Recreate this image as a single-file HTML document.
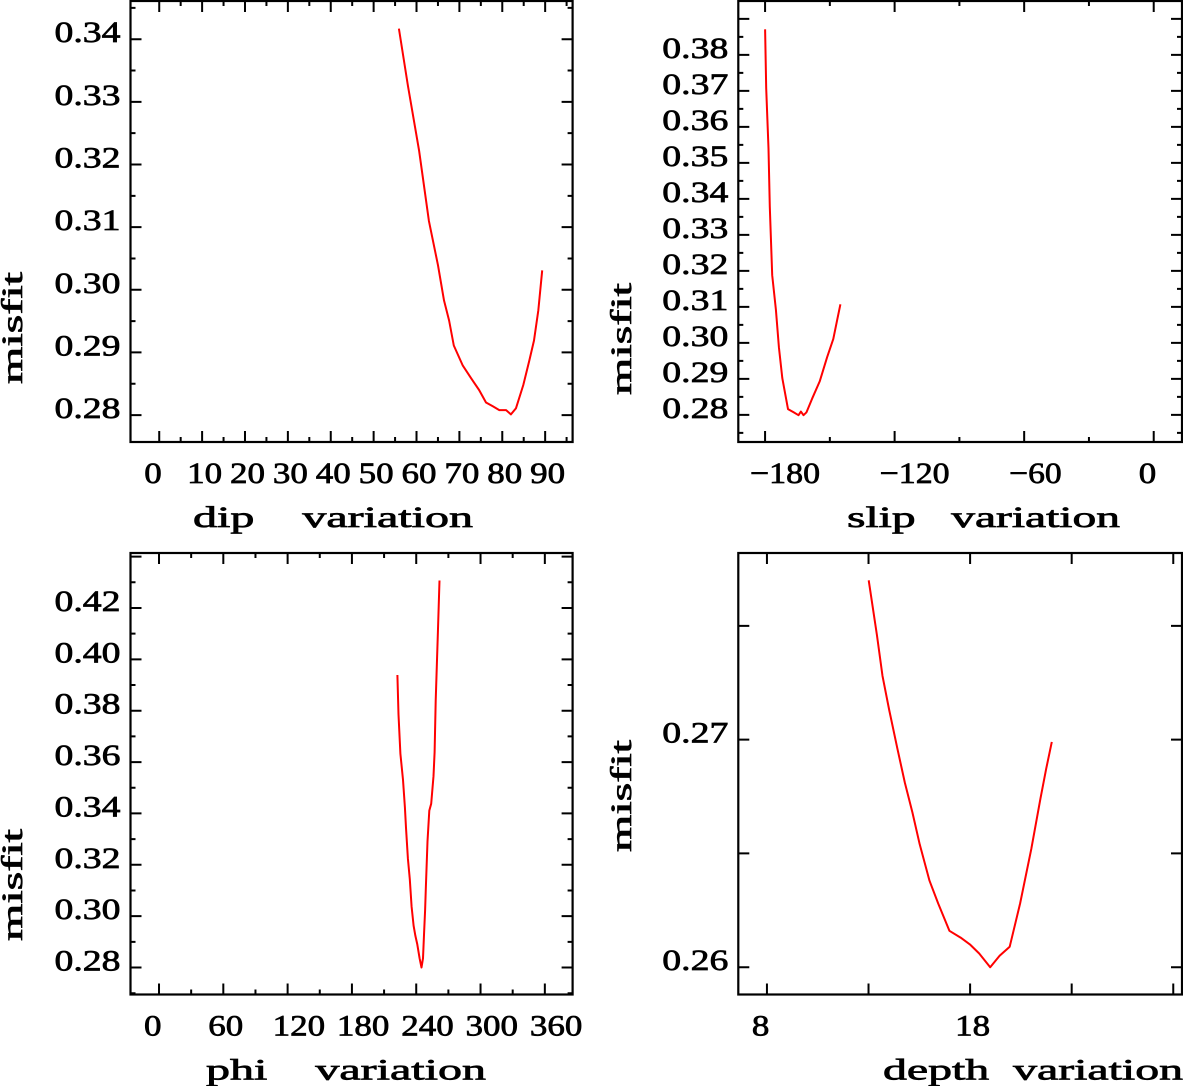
<!DOCTYPE html>
<html><head><meta charset="utf-8"><style>
html,body{margin:0;padding:0;background:#fff;}
svg text{font-family:"Liberation Serif",serif;fill:#000;stroke:#000;stroke-width:0.7;white-space:pre;}
</style></head><body>
<svg id="chart" width="1183" height="1086" viewBox="0 0 1183 1086" xmlns="http://www.w3.org/2000/svg"></svg>
<script>
// dip panel
const dipX=[55.9,58.0,60.6,62.9,65.0,66.4,67.6,68.7,70.8,72.7,74.6,76.2,77.8,79.3,80.9,82.0,83.2,84.9,86.3,87.4,88.4,89.3];
const dipY=[0.3417,0.3326,0.3222,0.3110,0.3039,0.2983,0.2951,0.2911,0.2879,0.2859,0.2840,0.2820,0.2814,0.2808,0.2808,0.2801,0.2811,0.2848,0.2887,0.2919,0.2967,0.3031];
const dipXTicks=[0,10,20,30,40,50,60,70,80,90];
const dipYTicks=[0.28,0.29,0.30,0.31,0.32,0.33,0.34];
// slip panel
const slipX=[-180.0,-179.5,-178.4,-177.8,-176.7,-175.0,-173.6,-172.0,-169.4,-166.8,-164.5,-163.4,-162.2,-160.8,-158.2,-154.7,-151.3,-148.4,-146.6,-145.1];
const slipY=[0.3871,0.3707,0.3540,0.3378,0.3188,0.3092,0.2988,0.2902,0.2816,0.2807,0.2799,0.2809,0.2799,0.2807,0.2845,0.2893,0.2959,0.3011,0.3064,0.3107];
const slipXTicks=[-180,-120,-60,0];
const slipYTicks=[0.28,0.29,0.30,0.31,0.32,0.33,0.34,0.35,0.36,0.37,0.38];
// phi panel
const phiX=[222.4,223.5,225.2,227.7,229.4,230.5,232.2,234.0,235.7,237.5,239.2,241.0,243.1,244.9,246.3,247.3,248.3,249.0,250.5,252.2,254.0,256.1,257.1,258.2,259.2,260.2,261.7];
const phiY=[0.3939,0.3785,0.3632,0.3531,0.3424,0.3344,0.3224,0.3144,0.3037,0.2963,0.2923,0.2890,0.2836,0.2800,0.2836,0.2936,0.3023,0.3117,0.3291,0.3411,0.3438,0.3545,0.3638,0.3839,0.3973,0.4106,0.4307];
const phiXTicks=[0,60,120,180,240,300,360];
const phiYTicks=[0.28,0.30,0.32,0.34,0.36,0.38,0.40,0.42];
// depth panel
const depthX=[13.01,13.41,13.69,14.02,14.42,14.79,15.16,15.52,16.00,16.43,16.98,17.53,17.99,18.45,18.99,19.45,19.95,20.46,21.01,21.46,21.74,22.02];
const depthY=[0.2770,0.2746,0.2728,0.2713,0.2696,0.2681,0.2668,0.2654,0.2638,0.2628,0.2616,0.2613,0.2610,0.2606,0.2600,0.2605,0.2609,0.2628,0.2652,0.2674,0.2687,0.2699];
const depthXTicks=[8,18];
const depthYTicks=[0.26,0.27];

const NS="http://www.w3.org/2000/svg";
const svg=document.getElementById('chart');
function mk(tag,attrs,parent){const e=document.createElementNS(NS,tag);for(const k in attrs)e.setAttribute(k,attrs[k]);(parent||svg).appendChild(e);return e;}

function panel(p){
  const g=mk('g',{});
  
  
  const xs=v=>p.L+(v-p.x0)/(p.x1-p.x0)*(p.R-p.L);
  const ys=v=>p.B-(v-p.y0)/(p.y1-p.y0)*(p.B-p.T);
  const frame=mk('rect',{x:p.L,y:p.T,width:p.R-p.L,height:p.B-p.T,fill:'none',stroke:'#000','stroke-width':2.2},g);
  
  
  let d='';
  for(let v=p.xMinorStart;v<=p.x1;v+=p.xMinor){
    const x=xs(v); if(x<p.L+1||x>p.R-1)continue;
    const isMaj=Math.abs(((v-p.xMajBase)/p.xMajor)-Math.round((v-p.xMajBase)/p.xMajor))<1e-6;
    const len=isMaj?11:5;
    d+=`M${x},${p.B}v${-len}M${x},${p.T}v${len}`;
  }
  for(let v=p.yMinorStart;v<=p.y1+1e-9;v+=p.yMinor){
    const y=ys(v); if(y<p.T+1||y>p.B-1)continue;
    const r=(v-p.yMajBase)/p.yMajor;
    const isMaj=Math.abs(r-Math.round(r))<1e-4;
    const len=isMaj?11:5;
    d+=`M${p.L},${y}h${len}M${p.R},${y}h${-len}`;
  }
  const tk=mk('path',{d:d,stroke:'#000','stroke-width':2,fill:'none'},g);
  
  
  p.xTicks.forEach(v=>{
    const s=(v<0?'\u2212':'')+Math.abs(v);
    const t=mk('text',{x:xs(v)-15,y:p.B+41,'font-size':30,textLength:s.length*17.5,lengthAdjust:'spacingAndGlyphs'},g);
    t.textContent=s;
    
    
  });
  p.yTicks.forEach(v=>{
    const s=v.toFixed(2);
    const t=mk('text',{x:p.L-10,y:ys(v)+3,'font-size':30,'text-anchor':'end',textLength:66,lengthAdjust:'spacingAndGlyphs'},g);
    t.textContent=s;
    
    
  });
  const xt=mk('text',{x:p.titleX,y:p.B+85,'font-size':30,textLength:p.titleW,lengthAdjust:'spacingAndGlyphs',style:'white-space:pre'},g);
  xt.textContent=p.title;
  
  
  const yt=mk('text',{x:0,y:0,'font-size':30,'text-anchor':'middle',textLength:112,lengthAdjust:'spacingAndGlyphs',transform:`translate(${p.misX},${p.misY}) rotate(-90)`},g);
  yt.textContent='misfit';
  
  
  const pts=p.X.map((v,i)=>xs(v).toFixed(1)+','+ys(p.Y[i]).toFixed(1)).join(' ');
  const line=mk('polyline',{points:pts,fill:'none',stroke:'#ff0000','stroke-width':2,'stroke-linejoin':'round'},g);
  
  
}

panel({name:'dip',L:130.5,R:572.6,T:1,B:442,x0:-6.7,x1:96.4,y0:0.2757,y1:0.3461,
  xMinorStart:0,xMinor:5,xMajor:10,xMajBase:0,yMinorStart:0.275,yMinor:0.005,yMajor:0.01,yMajBase:0.28,
  xTicks:dipXTicks,yTicks:dipYTicks,X:dipX,Y:dipY,title:'dip    variation',titleX:193,titleW:280,misX:22,misY:328});
panel({name:'slip',L:738.3,R:1182,T:1,B:442,x0:-192.4,x1:13.1,y0:0.27246,y1:0.39497,
  xMinorStart:-180,xMinor:30,xMajor:60,xMajBase:-180,yMinorStart:0.275,yMinor:0.005,yMajor:0.01,yMajBase:0.28,
  xTicks:slipXTicks,yTicks:slipYTicks,X:slipX,Y:slipY,title:'slip   variation',titleX:847,titleW:273,misX:631,misY:339});
panel({name:'phi',L:130.5,R:572.6,T:553,B:994.5,x0:-26.6,x1:385.9,y0:0.2695,y1:0.4414,
  xMinorStart:0,xMinor:30,xMajor:60,xMajBase:0,yMinorStart:0.27,yMinor:0.01,yMajor:0.02,yMajBase:0.28,
  xTicks:phiXTicks,yTicks:phiYTicks,X:phiX,Y:phiY,title:'phi    variation',titleX:206,titleW:280,misX:22,misY:885});
panel({name:'depth',L:738.3,R:1182,T:553,B:994.5,x0:6.59,x1:28.43,y0:0.2588,y1:0.2782,
  xMinorStart:8,xMinor:5,xMajor:5,xMajBase:8,yMinorStart:0.26,yMinor:0.005,yMajor:0.005,yMajBase:0.26,
  xTicks:depthXTicks,yTicks:depthYTicks,X:depthX,Y:depthY,title:'depth  variation',titleX:883,titleW:300,misX:631,misY:796});
</script>
</body></html>
